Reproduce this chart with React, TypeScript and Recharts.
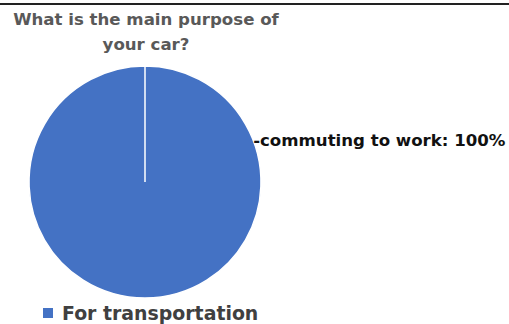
import React from 'react';
import { PieChart, Pie, Cell, Legend } from 'recharts';

const categories = ['For transportation'];
const labelTexts = ['-commuting to work'];
const values = [100];
const colors = ['#4472C4'];

const data = categories.map((name, i) => ({ name, value: values[i], note: labelTexts[i] }));

const FONT = '"DejaVu Sans", Verdana, sans-serif';

// label sits to the right of the pie, about 42px above the centre
const renderLabel = (props: any) => {
  const { cx, cy, outerRadius, percent, index } = props;
  const dy = -42;
  const x = cx + Math.sqrt(outerRadius * outerRadius - dy * dy);
  return (
    <text
      x={x}
      y={cy + dy}
      dominantBaseline="central"
      textAnchor="start"
      fill="#111"
      fontFamily={FONT}
      fontWeight={700}
      fontSize={16.6}
    >
      {`${data[index].note}: ${Math.round(percent * 100)}%`}
    </text>
  );
};

const renderLegend = () => (
  <div style={{ display: 'flex', alignItems: 'center', fontFamily: FONT }}>
    {data.map((d, i) => (
      <div key={d.name} style={{ display: 'flex', alignItems: 'center' }}>
        <span style={{ width: 10, height: 10, background: colors[i], display: 'inline-block', marginRight: 9 }} />
        <span style={{ fontWeight: 700, fontSize: 18.9, color: '#404040' }}>{d.name}</span>
      </div>
    ))}
  </div>
);

export default function App() {
  return (
    <div style={{ position: 'absolute', left: 0, top: 0, width: 509, height: 324, background: '#fff', overflow: 'hidden' }}>
      <div style={{ position: 'absolute', left: 0, top: 3, width: 509, height: 2, background: '#222' }} />
      <div
        style={{
          position: 'absolute',
          left: 0,
          top: 7,
          width: 292,
          textAlign: 'center',
          fontFamily: FONT,
          fontWeight: 700,
          fontSize: 16.6,
          lineHeight: '25px',
          color: '#595959',
        }}
      >
        What is the main purpose of
        <br />
        your car?
      </div>
      <PieChart
        width={509}
        height={324}
        margin={{ top: 0, right: 0, bottom: 0, left: 0 }}
        style={{ position: 'absolute', left: 0, top: 0 }}
      >
        <Pie
          data={data}
          dataKey="value"
          nameKey="name"
          cx={145}
          cy={182}
          outerRadius={116}
          startAngle={90}
          endAngle={-270}
          stroke="#ffffff"
          strokeWidth={1.5}
          label={renderLabel}
          labelLine={false}
          isAnimationActive={false}
        >
          {data.map((d, i) => (
            <Cell key={d.name} fill={colors[i]} />
          ))}
        </Pie>
        <Legend
          content={renderLegend}
          wrapperStyle={{ position: 'absolute', left: 43, top: 302, width: 300 }}
        />
      </PieChart>
    </div>
  );
}
